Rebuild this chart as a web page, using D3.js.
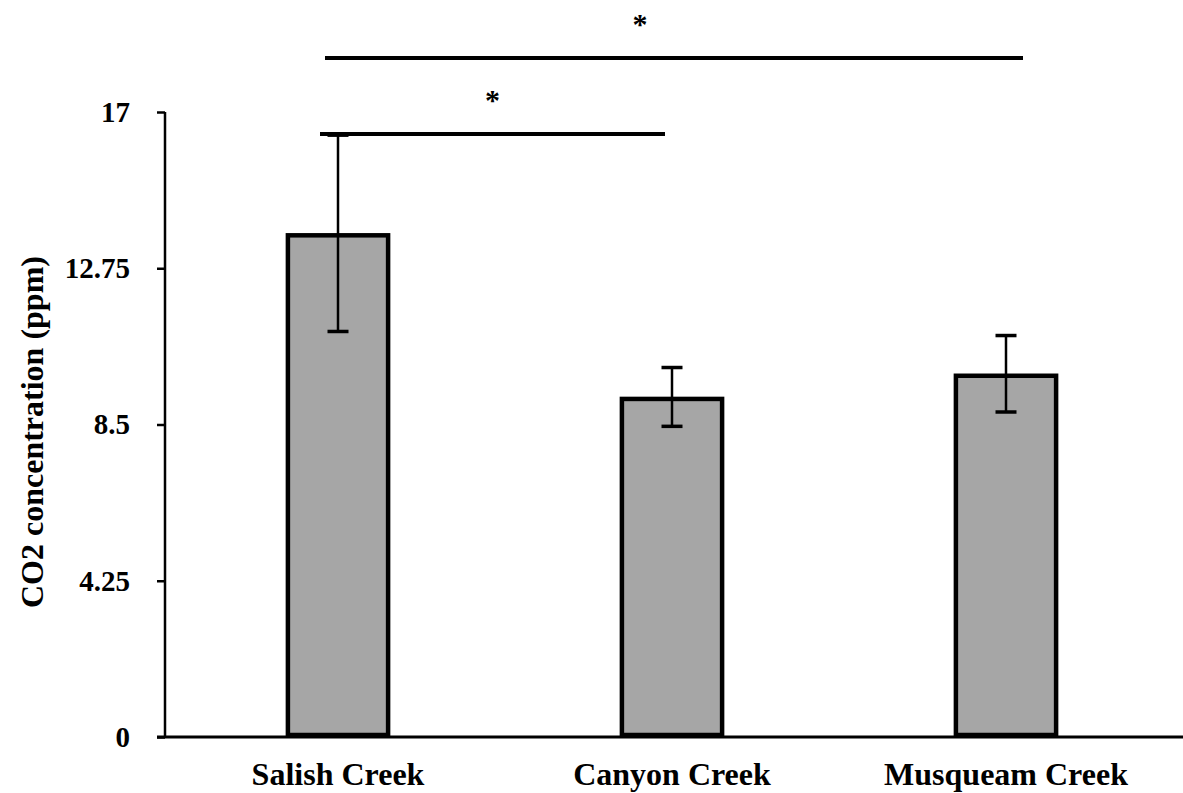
<!DOCTYPE html>
<html><head><meta charset="utf-8">
<script src="https://cdn.jsdelivr.net/npm/d3@7"></script>
<style>body{margin:0;background:#fff}svg{display:block}text{font-family:"Liberation Serif","Times New Roman",serif;font-weight:bold}</style>
</head><body>
<svg id="c" width="1183" height="793"></svg>
<script>
const categories = ["Salish Creek", "Canyon Creek", "Musqueam Creek"];
const means = [13.7, 9.25, 9.88];
const errors = [2.67, 0.8, 1.04];
const yTicks = [0, 4.25, 8.5, 12.75, 17];
const yTickLabels = ["0", "4.25", "8.5", "12.75", "17"];
const comparisons = [
  {from: "Salish Creek", to: "Canyon Creek", level: 16.4, label: "*"},
  {from: "Salish Creek", to: "Musqueam Creek", level: 18.47, label: "*"}
];
const yTitle = "CO2 concentration (ppm)";

const svg = d3.select("#c");
const y = d3.scaleLinear().domain([0, 17]).range([737, 112]);
const x = d3.scaleBand().domain(categories).range([171, 1173]).paddingInner(0.7).paddingOuter(0.35);

// y axis
const yAxis = svg.append("g").attr("transform", "translate(165,0)")
  .call(d3.axisLeft(y).tickValues(yTicks).tickFormat((d,i)=>yTickLabels[i]).tickSize(8).tickPadding(27));
yAxis.select(".domain").attr("stroke","#000").attr("stroke-width",2.5).attr("d", `M0,${y(17)}V${y(0)}`);
yAxis.selectAll(".tick line").attr("stroke","#000").attr("stroke-width",2.5);
yAxis.selectAll(".tick text").attr("font-size",29).attr("font-family","Liberation Serif, Times New Roman, serif").attr("fill","#000").attr("dy","0.32em");

// bars
svg.append("g").selectAll("rect").data(categories).join("rect")
  .attr("x", d=>x(d)).attr("width", x.bandwidth())
  .attr("y", (d,i)=>y(means[i])+2).attr("height", (d,i)=>y(0)-y(means[i])-4)
  .attr("fill","#a6a6a6").attr("stroke","#000").attr("stroke-width",4.5);

// x axis
svg.append("line").attr("x1",157).attr("x2",1183).attr("y1",y(0)).attr("y2",y(0))
  .attr("stroke","#000").attr("stroke-width",3);
svg.append("g").selectAll("text").data(categories).join("text")
  .attr("x", d=>x(d)+x.bandwidth()/2).attr("y", 785).attr("text-anchor","middle")
  .attr("font-size",32).attr("fill","#000").text(d=>d);

// error bars
const eb = svg.append("g").attr("stroke","#000");
categories.forEach((c,i)=>{
  const cx = x(c)+x.bandwidth()/2;
  eb.append("line").attr("x1",cx).attr("x2",cx).attr("y1",y(means[i]+errors[i])).attr("y2",y(means[i]-errors[i])).attr("stroke-width",2.5);
  [means[i]+errors[i], means[i]-errors[i]].forEach(v=>{
    eb.append("line").attr("x1",cx-10.5).attr("x2",cx+10.5).attr("y1",y(v)).attr("y2",y(v)).attr("stroke-width",3.5);
  });
});

// significance lines
const cen = c => x(c)+x.bandwidth()/2;
comparisons.forEach((cmp,k)=>{
  const x1 = k===0 ? cen(cmp.from)-18 : cen(cmp.from)-13;
  const x2 = k===0 ? cen(cmp.to)-7 : cen(cmp.to)+17;
  const sx = k===0 ? (x1+x2)/2 : (x1+x2)/2 - 34;
  svg.append("line").attr("x1",x1).attr("x2",x2).attr("y1",y(cmp.level)).attr("y2",y(cmp.level))
    .attr("stroke","#000").attr("stroke-width",4);
  svg.append("text").attr("x",sx).attr("y",y(cmp.level)-24).attr("text-anchor","middle")
    .attr("font-size",30).attr("font-family","Liberation Sans, Arial, sans-serif").attr("fill","#000").text(cmp.label);
});

// y title
svg.append("text").attr("transform","translate(43,432) rotate(-90)").attr("text-anchor","middle")
  .attr("font-size",32).attr("fill","#000").text(yTitle);
</script>
</body></html>
